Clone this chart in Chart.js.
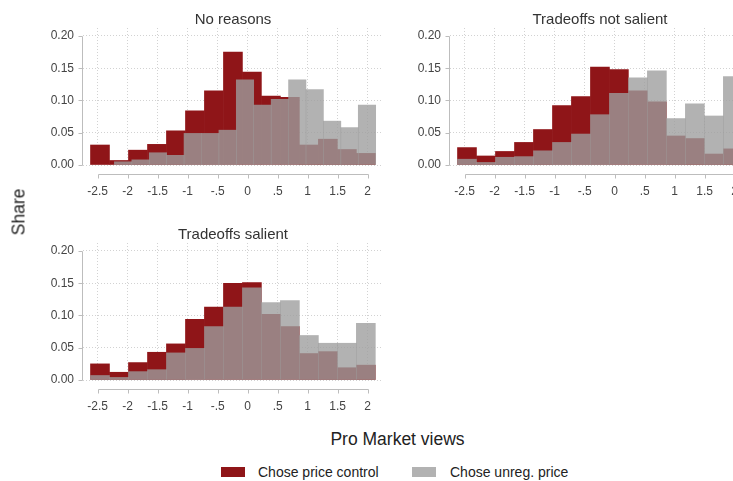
<!DOCTYPE html>
<html>
<head>
<meta charset="utf-8">
<script src="https://cdn.jsdelivr.net/npm/chart.js@4/dist/chart.umd.min.js"></script>
<style>
  html, body { margin: 0; padding: 0; background: #fff; width: 733px; height: 481px; overflow: hidden; }
  body { position: relative; font-family: "Liberation Sans", Arial, sans-serif; }
  canvas { position: absolute; }
  .lbl { position: absolute; white-space: nowrap; transform: translate(-50%, -50%); }
  .title { font-size: 15px; color: #333; }
  .axis-title { font-size: 17.5px; color: #222; }
  .key { position: absolute; width: 24px; height: 10px; }
  .key-text { position: absolute; font-size: 14px; color: #222; white-space: nowrap; transform: translateY(-50%); }
</style>
</head>
<body>
<canvas id="panelNoReasons" width="400" height="200" style="left:0px;top:0px"></canvas>
<canvas id="panelNotSalient" width="400" height="200" style="left:367px;top:0px"></canvas>
<canvas id="panelSalient" width="400" height="200" style="left:0px;top:215px"></canvas>

<div class="lbl title" style="left:233px;top:18px">No reasons</div>
<div class="lbl title" style="left:600px;top:18px">Tradeoffs not salient</div>
<div class="lbl title" style="left:233px;top:233px">Tradeoffs salient</div>
<div class="lbl axis-title" style="left:18.5px;top:212px;transform:translate(-50%,-50%) rotate(-90deg)">Share</div>
<div class="lbl axis-title" style="left:397.5px;top:439px">Pro Market views</div>

<div class="key" style="left:221px;top:467px;background:rgb(143,21,24)"></div>
<div class="key-text" style="left:258px;top:472px">Chose price control</div>
<div class="key" style="left:412px;top:467px;background:rgb(178,178,178)"></div>
<div class="key-text" style="left:450px;top:472px">Chose unreg. price</div>

<script>
// Histogram bin midpoints (pro-market views score)
const binCenters = [-2.462, -2.145, -1.829, -1.512, -1.196, -0.879, -0.563, -0.246,
                    0.070, 0.387, 0.703, 1.020, 1.336, 1.653, 1.969];
// "No reasons" group choosing the unregulated price has its own bins
const unregCentersNoReasons = [-2.077, -1.786, -1.496, -1.206, -0.916, -0.625, -0.335, -0.045,
                               0.246, 0.536, 0.826, 1.117, 1.407, 1.697, 1.988];

// Shares per bin
const controlNoReasons   = [0.031, 0.007, 0.023, 0.032, 0.053, 0.084, 0.115, 0.175, 0.144, 0.107, 0.105, 0.031, 0.040, 0.024, 0.018];
const unregNoReasons     = [0.005, 0.008, 0.019, 0.015, 0.049, 0.049, 0.054, 0.132, 0.093, 0.102, 0.132, 0.117, 0.068, 0.058, 0.093];
const controlNotSalient  = [0.027, 0.014, 0.021, 0.035, 0.055, 0.092, 0.106, 0.152, 0.148, 0.115, 0.098, 0.045, 0.041, 0.017, 0.025];
const unregNotSalient    = [0.009, 0.004, 0.012, 0.013, 0.022, 0.035, 0.048, 0.078, 0.111, 0.135, 0.146, 0.072, 0.095, 0.076, 0.137];
const controlSalient     = [0.025, 0.012, 0.027, 0.043, 0.056, 0.094, 0.113, 0.150, 0.151, 0.102, 0.083, 0.041, 0.044, 0.019, 0.023];
const unregSalient       = [0.007, 0.004, 0.013, 0.016, 0.042, 0.049, 0.083, 0.113, 0.143, 0.120, 0.123, 0.069, 0.057, 0.057, 0.088];

// Axis ticks
const xTickValues = [-2.5, -2, -1.5, -1, -0.5, 0, 0.5, 1, 1.5, 2];
const xTickLabels = ['-2.5', '-2', '-1.5', '-1', '-.5', '0', '.5', '1', '1.5', '2'];
const yTickValues = [0, 0.05, 0.1, 0.15, 0.2];
const yTickLabels = ['0.00', '0.05', '0.10', '0.15', '0.20'];

const controlColor = 'rgb(143,21,24)';
const unregColor = 'rgba(157,157,157,0.79)';
const gridColor = '#d2d2d2';
const axisColor = '#bdbdbd';
const tickFont = { family: '"Liberation Sans", Arial, sans-serif', size: 12 };
const X_MIN = -2.745, X_MAX = 2.255, Y_MAX = 0.2124;

// Stata-style axis lines: spanning only the labelled range, x axis set below the plot
const stataAxes = {
  id: 'stataAxes',
  afterDraw(chart) {
    const { ctx, chartArea, scales } = chart;
    const x = scales.x, y = scales.y;
    ctx.save();
    ctx.strokeStyle = axisColor;
    ctx.lineWidth = 1;
    ctx.beginPath();
    const ax = Math.round(chartArea.left) - 0.5;
    const yTop = Math.round(y.getPixelForValue(yTickValues[yTickValues.length - 1])) + 0.5;
    const yBot = Math.round(y.getPixelForValue(yTickValues[0])) + 0.5;
    ctx.moveTo(ax, yTop);
    ctx.lineTo(ax, yBot);
    yTickValues.forEach(v => {
      const py = Math.round(y.getPixelForValue(v)) + 0.5;
      ctx.moveTo(ax - 4, py);
      ctx.lineTo(ax, py);
    });
    const ay = Math.round(chartArea.bottom) + 9.5;
    const xl = Math.round(x.getPixelForValue(xTickValues[0])) + 0.5;
    const xr = Math.round(x.getPixelForValue(xTickValues[xTickValues.length - 1])) + 0.5;
    ctx.moveTo(xl, ay);
    ctx.lineTo(xr, ay);
    xTickValues.forEach(v => {
      const px = Math.round(x.getPixelForValue(v)) + 0.5;
      ctx.moveTo(px, ay);
      ctx.lineTo(px, ay + 4);
    });
    ctx.stroke();
    ctx.restore();
  }
};

function toPoints(xs, ys) {
  return xs.map((x, i) => ({ x: x, y: ys[i] }));
}

function fixedTicks(values) {
  return scale => { scale.ticks = values.map(v => ({ value: v })); };
}

function drawPanel(canvasId, controlShares, unregCenters, unregShares) {
  return new Chart(document.getElementById(canvasId), {
    type: 'bar',
    data: {
      datasets: [
        { label: 'Chose unreg. price', data: toPoints(unregCenters, unregShares),
          backgroundColor: unregColor, xAxisID: 'xu', order: 0 },
        { label: 'Chose price control', data: toPoints(binCenters, controlShares),
          backgroundColor: controlColor, xAxisID: 'x', order: 1 }
      ]
    },
    options: {
      responsive: false,
      animation: false,
      devicePixelRatio: 1,
      layout: { padding: { top: 28, right: 17, left: 0, bottom: 0 } },
      plugins: { legend: { display: false }, tooltip: { enabled: false } },
      datasets: { bar: { grouped: false, barPercentage: 1, categoryPercentage: 1, borderWidth: 0 } },
      scales: {
        x: {
          type: 'linear', position: 'bottom', min: X_MIN, max: X_MAX, offset: false,
          afterBuildTicks: fixedTicks(xTickValues),
          afterFit: s => { s.height = 35; },
          ticks: { callback: v => xTickLabels[xTickValues.indexOf(v)], padding: 19,
                   font: tickFont, color: '#444', autoSkip: false, maxRotation: 0 },
          grid: { color: gridColor, drawTicks: false, offset: false },
          border: { display: false, dash: [1, 2] }
        },
        xu: {
          type: 'linear', position: 'bottom', display: false, min: X_MIN, max: X_MAX, offset: false,
          afterBuildTicks: fixedTicks(xTickValues),
          grid: { offset: false }
        },
        y: {
          type: 'linear', min: 0, max: Y_MAX,
          afterBuildTicks: fixedTicks(yTickValues),
          afterFit: s => { s.width = 83; },
          ticks: { callback: v => yTickLabels[yTickValues.indexOf(v)], padding: 9,
                   font: tickFont, color: '#444' },
          grid: { color: gridColor, drawTicks: false },
          border: { display: false, dash: [1, 2] }
        }
      }
    },
    plugins: [stataAxes]
  });
}

drawPanel('panelNoReasons', controlNoReasons, unregCentersNoReasons, unregNoReasons);
drawPanel('panelNotSalient', controlNotSalient, binCenters, unregNotSalient);
drawPanel('panelSalient', controlSalient, binCenters, unregSalient);
</script>
</body>
</html>
